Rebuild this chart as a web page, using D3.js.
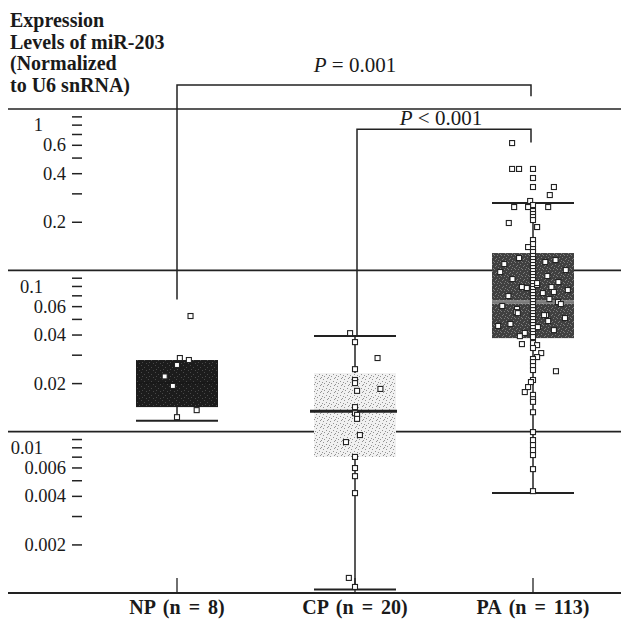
<!DOCTYPE html>
<html>
<head>
<meta charset="utf-8">
<script src="https://cdn.jsdelivr.net/npm/d3@7"></script>
<style>
  body { margin: 0; background: #fff; }
  text { font-family: "Liberation Serif", "Times New Roman", serif; fill: #1a1a1a; }
</style>
</head>
<body>
<svg id="chart" width="621" height="621"></svg>
<script>
// groups and box statistics
const groups = ["NP (n = 8)", "CP (n = 20)", "PA (n = 113)"];
const whiskLow = [0.0117, 0.00105, 0.00416];
const q1 = [0.0142, 0.00697, 0.0380];
const medians = [0.0200, 0.0134, 0.0636];
const q3 = [0.0278, 0.0231, 0.128];
const whiskHigh = [null, 0.0392, 0.261];

// individual samples, jitter is in half box widths
const npValues = [0.0521, 0.0286, 0.0278, 0.0259, 0.0220, 0.0192, 0.0136, 0.0123];
const npJitter = [0.33, 0.07, 0.29, 0, -0.3, -0.1, 0.48, 0];

const cpValues = [0.0408, 0.0359, 0.0286, 0.0244, 0.0209, 0.0200, 0.0184, 0.0179, 0.0142, 0.0130,
  0.0127, 0.0120, 0.00953, 0.00862, 0.00697, 0.00595, 0.00530, 0.00416, 0.00124, 0.00109];
const cpJitter = [-0.12, 0, 0.55, 0, 0, 0, 0.62, 0.05, 0, 0,
  0.05, 0.05, 0.12, -0.22, 0, 0, 0, 0, -0.15, 0];

const paValues = [
  // above the box
  0.615, 0.425, 0.425, 0.425, 0.3735, 0.3284, 0.3284, 0.2929, 0.2690, 0.2540, 0.2468, 0.2468,
  0.2468, 0.2331, 0.2234, 0.2140, 0.2050, 0.1965, 0.1855, 0.1541, 0.1455, 0.1394, 0.1355, 0.1299,
  // column inside the box
  0.1227, 0.1175, 0.1126, 0.1079, 0.1033, 0.0990, 0.0949, 0.0909, 0.0871, 0.0834, 0.0799, 0.0766,
  0.0734, 0.0703, 0.0673, 0.0645, 0.0618, 0.0592, 0.0567, 0.0543, 0.0521, 0.0499, 0.0478, 0.0458,
  0.0439, 0.0420, 0.0403, 0.0386,
  // scattered inside the box
  0.1192, 0.1158, 0.1094, 0.1004, 0.0976, 0.0922, 0.0883, 0.0846, 0.0811, 0.0788, 0.0777, 0.0755,
  0.0723, 0.0693, 0.0664, 0.0636, 0.0601, 0.0576, 0.0551, 0.0528, 0.0506, 0.0485, 0.0465, 0.0445,
  0.0426, 0.0409, 0.0391, 0.1126, 0.0834, 0.0788, 0.0734, 0.0543, 0.0528, 0.0618, 0.0452,
  // below the box
  0.0354, 0.0349, 0.0344, 0.0330, 0.0307, 0.0290, 0.0282, 0.0270, 0.0255, 0.0241, 0.0237, 0.0209,
  0.0203, 0.0189, 0.0176, 0.0169, 0.0159, 0.0153, 0.0132, 0.00994, 0.00887, 0.00826, 0.00769,
  0.00716, 0.00586, 0.00428
];
const paJitter = [
  -0.51, -0.51, -0.34, 0, 0, 0, 0.51, 0.41, -0.07, 0, -0.46, -0.12,
  0.37, 0, 0, 0, 0, -0.59, 0.1, 0, 0, -0.12, 0, 0,
  0, 0, 0, 0, 0, 0, 0, 0, 0, 0, 0, 0,
  0, 0, 0, 0, 0, 0, 0, 0, 0, 0, 0, 0,
  0, 0, 0, 0,
  -0.34, 0.55, -0.7, 0.8, -0.8, 0.35, -0.5, 0.62, 0.1, -0.27, -0.15, 0.85,
  0.24, -0.6, 0.4, 0.61, -0.75, -0.39, -0.41, 0.32, 0.78, 0.37, -0.55, 0.12,
  0.51, -0.2, -0.32, 0.3, 0.1, 0.45, 0.51, -0.37, 0.27, 0.68, -0.85,
  0, -0.27, 0.1, 0, 0.2, 0.1, 0, 0, 0, 0, 0.56, 0,
  -0.05, -0.12, -0.2, 0, 0, 0, 0, 0, 0, 0, 0,
  0, 0, 0
];

const samples = [npValues, cpValues, paValues];
const jitters = [npJitter, cpJitter, paJitter];

const decades = [1, 0.1, 0.01];
const minorTicks = [0.9, 0.8, 0.7, 0.6, 0.5, 0.4, 0.3, 0.2,
  0.09, 0.08, 0.07, 0.06, 0.05, 0.04, 0.03, 0.02,
  0.009, 0.008, 0.007, 0.006, 0.005, 0.004, 0.003, 0.002];
const labelled = [0.6, 0.4, 0.2, 0.06, 0.04, 0.02, 0.006, 0.004, 0.002];

const titleLines = ["Expression", "Levels of miR-203", "(Normalized", "to U6 snRNA)"];

const svg = d3.select("#chart");
const y = d3.scaleLog().domain([0.001, 1]).range([593, 109]);
const x = d3.scalePoint().domain(groups).range([177, 533]);
const boxW = 82;
const jx = d3.scaleLinear().domain([-1, 1]).range([-boxW / 2, boxW / 2]);

// stipple textures for the boxes
const defs = svg.append("defs");
function stipple(id, base, dot, pts) {
  const p = defs.append("pattern").attr("id", id)
    .attr("width", 7).attr("height", 7).attr("patternUnits", "userSpaceOnUse");
  p.append("rect").attr("width", 7).attr("height", 7).attr("fill", base);
  pts.forEach(([a, b]) => p.append("rect").attr("x", a).attr("y", b)
    .attr("width", 1).attr("height", 1).attr("fill", dot));
}
stipple("npFill", "#1c1c1c", "#484848", [[1, 1], [4, 3], [2, 5], [6, 6]]);
stipple("cpFill", "#f1f1f1", "#949494", [[1, 1], [4, 3], [2, 5], [6, 6], [5, 0], [0, 4]]);
stipple("paFill", "#404040", "#7c7c7c", [[1, 1], [4, 3], [2, 5], [6, 6], [5, 0], [3, 2], [0, 3]]);
const fills = ["url(#npFill)", "url(#cpFill)", "url(#paFill)"];

// title
svg.append("text").attr("x", 10).attr("y", 27)
  .style("font-weight", "bold").style("font-size", "20px")
  .selectAll("tspan").data(titleLines).join("tspan")
  .attr("x", 10).attr("dy", (d, i) => i ? 21.7 : 0).text(d => d);

// decade separator lines
svg.append("g").selectAll("line").data(decades).join("line")
  .attr("x1", 8).attr("x2", 621)
  .attr("y1", d => y(d)).attr("y2", d => y(d))
  .attr("stroke", "#222").attr("stroke-width", 1.6);

// bottom axis
svg.append("line").attr("x1", 8).attr("x2", 621)
  .attr("y1", y(0.001)).attr("y2", y(0.001))
  .attr("stroke", "#222").attr("stroke-width", 2);
svg.append("g").selectAll("line").data(groups).join("line")
  .attr("x1", d => x(d)).attr("x2", d => x(d))
  .attr("y1", y(0.001) - 15).attr("y2", y(0.001))
  .attr("stroke", "#222").attr("stroke-width", 1.3);
svg.append("g").selectAll("text").data(groups).join("text")
  .attr("x", d => x(d)).attr("y", 614)
  .attr("text-anchor", "middle")
  .style("font-weight", "bold").style("font-size", "20px")
  .style("word-spacing", "3px")
  .text(d => d);

// left axis with minor ticks
const yAxis = d3.axisLeft(y).tickValues(minorTicks).tickSize(10).tickPadding(6)
  .tickFormat(d => labelled.includes(d) ? String(d) : "");
const ag = svg.append("g").attr("transform", "translate(82,0)").call(yAxis);
ag.select(".domain").remove();
ag.selectAll(".tick line").attr("stroke", "#222").attr("stroke-width", 1.5);
ag.selectAll(".tick text").style("font-size", "18.5px").style("font-family", "Liberation Serif, serif")
  .attr("fill", "#1a1a1a");
svg.append("g").selectAll("text").data(decades).join("text")
  .attr("x", 43).attr("y", d => y(d) + 16).attr("dy", "0.35em")
  .attr("text-anchor", "end").style("font-size", "18.5px")
  .text(d => String(d));

// whiskers and boxes
const boxes = svg.append("g");
groups.forEach((g, i) => {
  const cx = x(g);
  const top = whiskHigh[i] === null ? q3[i] : whiskHigh[i];
  boxes.append("line").attr("x1", cx).attr("x2", cx)
    .attr("y1", y(top)).attr("y2", y(whiskLow[i]))
    .attr("stroke", "#222").attr("stroke-width", 1.5);
  [whiskLow[i], whiskHigh[i]].filter(v => v !== null).forEach(v => {
    boxes.append("line").attr("x1", cx - boxW / 2).attr("x2", cx + boxW / 2)
      .attr("y1", y(v)).attr("y2", y(v))
      .attr("stroke", "#222").attr("stroke-width", 2);
  });
  boxes.append("rect").attr("x", cx - boxW / 2).attr("width", boxW)
    .attr("y", y(q3[i])).attr("height", y(q1[i]) - y(q3[i]))
    .attr("fill", fills[i]);
});
// medians
boxes.append("line").attr("x1", x(groups[0]) - boxW / 2).attr("x2", x(groups[0]) + boxW / 2)
  .attr("y1", y(medians[0])).attr("y2", y(medians[0])).attr("stroke", "#161616").attr("stroke-width", 1);
boxes.append("line").attr("x1", x(groups[1]) - boxW / 2 - 4).attr("x2", x(groups[1]) + boxW / 2 + 1)
  .attr("y1", y(medians[1])).attr("y2", y(medians[1])).attr("stroke", "#222").attr("stroke-width", 3);
boxes.append("line").attr("x1", x(groups[2]) - boxW / 2).attr("x2", x(groups[2]) + boxW / 2)
  .attr("y1", y(medians[2])).attr("y2", y(medians[2])).attr("stroke", "#c8c8c8").attr("stroke-width", 3);
boxes.append("line").attr("x1", x(groups[2]) - boxW / 2).attr("x2", x(groups[2]) + boxW / 2)
  .attr("y1", y(medians[2])).attr("y2", y(medians[2])).attr("stroke", "#333").attr("stroke-width", 1);

// significance brackets
const br = svg.append("g").attr("fill", "none").attr("stroke", "#222").attr("stroke-width", 1.5);
br.append("path").attr("d", d3.line()([
  [x(groups[0]), y(0.066)], [x(groups[0]), y(1.41)], [x(groups[2]) - 2, y(1.41)], [x(groups[2]) - 2, y(1.2)]
]));
br.append("path").attr("d", d3.line()([
  [x(groups[1]) + 2, y(0.0392)], [x(groups[1]) + 2, y(0.75)], [x(groups[2]) - 2, y(0.75)], [x(groups[2]) - 2, y(0.62)]
]));
const p1 = svg.append("text").attr("x", 355).attr("y", y(1.41) - 13)
  .attr("text-anchor", "middle").style("font-size", "21px");
p1.append("tspan").style("font-style", "italic").text("P");
p1.append("tspan").text(" = 0.001");
const p2 = svg.append("text").attr("x", 441).attr("y", y(0.75) - 4)
  .attr("text-anchor", "middle").style("font-size", "21px");
p2.append("tspan").style("font-style", "italic").text("P");
p2.append("tspan").text(" < 0.001");

// sample points
const pts = svg.append("g");
groups.forEach((g, i) => {
  pts.selectAll(null).data(samples[i].map((v, k) => [v, jitters[i][k]])).join("rect")
    .attr("x", d => x(g) + jx(d[1]) - 2.5).attr("y", d => y(d[0]) - 2.5)
    .attr("width", 5).attr("height", 5)
    .attr("fill", "#fff").attr("stroke", "#222").attr("stroke-width", 1.1);
});
</script>
</body>
</html>
